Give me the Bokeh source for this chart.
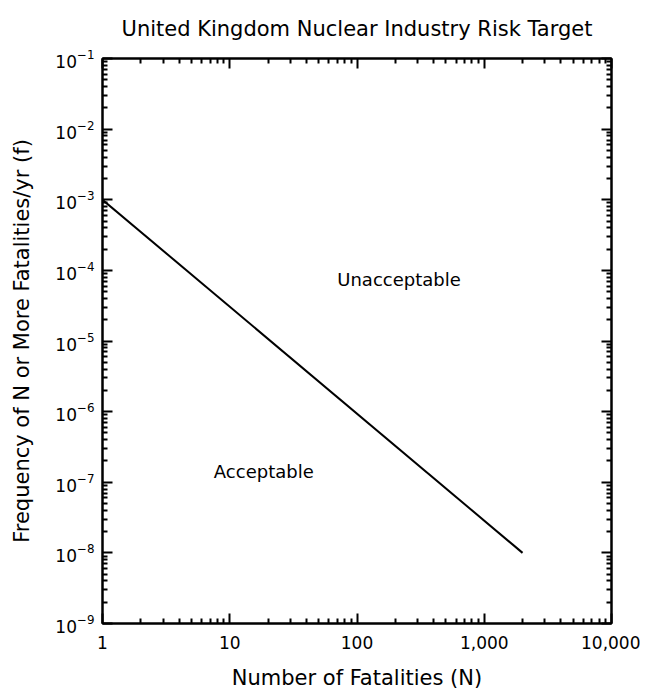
from bokeh.plotting import figure
from bokeh.models import (LogAxis, FixedTicker, CustomJSTickFormatter, Range1d,
                          LogTickFormatter, CustomLabelingPolicy)
from bokeh.core.properties import value
from bokeh.embed import file_html
from bokeh.resources import INLINE

# ---- data ----
risk_n = [1, 2000]
risk_f = [1e-3, 1e-8]

x_ticks = [1, 10, 100, 1000, 10000]
x_tick_labels = ["1", "10", "100", "1,000", "10,000"]
y_ticks = [1e-9, 1e-8, 1e-7, 1e-6, 1e-5, 1e-4, 1e-3, 1e-2, 1e-1]

region_labels = ["Unacceptable", "Acceptable"]
region_x = [70, 7.5]
region_y = [7.4e-5, 1.4e-7]

FONT = "DejaVu Sans"
X_MIN, X_MAX = 1, 10000
Y_MIN, Y_MAX = 1e-9, 1e-1

p = figure(width=640, height=692, x_axis_type="log", y_axis_type="log",
           x_range=Range1d(X_MIN, X_MAX), y_range=Range1d(Y_MIN, Y_MAX),
           output_backend="svg", toolbar_location=None,
           min_border_left=102, min_border_right=29, min_border_top=58, min_border_bottom=69,
           title="United Kingdom Nuclear Industry Risk Target")
p.background_fill_color = "white"
p.border_fill_color = "white"
p.grid.visible = False
p.outline_line_color = "black"
p.outline_line_width = 2

p.title.align = "center"
p.title.text_font = FONT
p.title.text_font_size = "21px"
p.title.text_font_style = "normal"
p.title.text_color = "black"
p.title.standoff = 27

def minor_list(ticks):
    out = []
    for t in ticks[:-1]:
        for k in range(2, 10):
            out.append(t * k)
    return out

xt = FixedTicker(ticks=x_ticks, minor_ticks=minor_list(x_ticks))
yt = FixedTicker(ticks=y_ticks, minor_ticks=minor_list(y_ticks))

fmt_code = """
let best = 0, bd = Infinity;
for (let i = 0; i < tvals.length; i++) {
  const d = Math.abs(Math.log10(tvals[i]) - Math.log10(tick));
  if (d < bd) { bd = d; best = i; }
}
return tlabels[best];
"""
xfmt = CustomJSTickFormatter(args=dict(tvals=x_ticks, tlabels=x_tick_labels), code=fmt_code)
yfmt = LogTickFormatter()
plain_fmt = CustomJSTickFormatter(code="return String(tick)")

no_labels = CustomLabelingPolicy(code="""
for (const i of indices) { indices.unset(i) }
return indices
""")

def style(ax):
    ax.axis_line_width = 2
    ax.axis_line_color = "black"
    ax.major_tick_line_width = 2
    ax.minor_tick_line_width = 2
    ax.major_tick_line_color = "black"
    ax.minor_tick_line_color = "black"
    ax.major_tick_in = 10
    ax.major_tick_out = 0
    ax.minor_tick_in = 5
    ax.minor_tick_out = 0
    ax.major_label_text_font = FONT
    ax.major_label_text_font_size = "17px"
    ax.major_label_text_color = "black"
    ax.axis_label_text_font = FONT
    ax.axis_label_text_font_size = "21px"
    ax.axis_label_text_font_style = "normal"
    ax.axis_label_text_color = "black"

xa = p.xaxis[0]
xa.ticker = xt
xa.formatter = xfmt
xa.axis_label = "Number of Fatalities (N)"
style(xa)
xa.major_label_standoff = 12
xa.axis_label_standoff = 14

ya = p.yaxis[0]
ya.ticker = yt
ya.formatter = yfmt
ya.axis_label = "Frequency of N or More Fatalities/yr (f)"
style(ya)
ya.major_label_standoff = 8
ya.axis_label_standoff = 18

top = LogAxis(ticker=xt, formatter=plain_fmt, major_label_policy=no_labels)
style(top)
top.major_label_text_font_size = "1px"
top.major_label_standoff = 0
p.add_layout(top, "above")

right = LogAxis(ticker=yt, formatter=plain_fmt, major_label_policy=no_labels)
style(right)
right.major_label_text_font_size = "1px"
right.major_label_standoff = 0
p.add_layout(right, "right")

p.line(risk_n, risk_f, line_color="black", line_width=2)
p.text(region_x, region_y, text=region_labels, text_font=value(FONT),
       text_font_size="18px", text_baseline="middle", text_align="left",
       text_color="black")

open("out.html", "w").write(file_html(p, INLINE))
